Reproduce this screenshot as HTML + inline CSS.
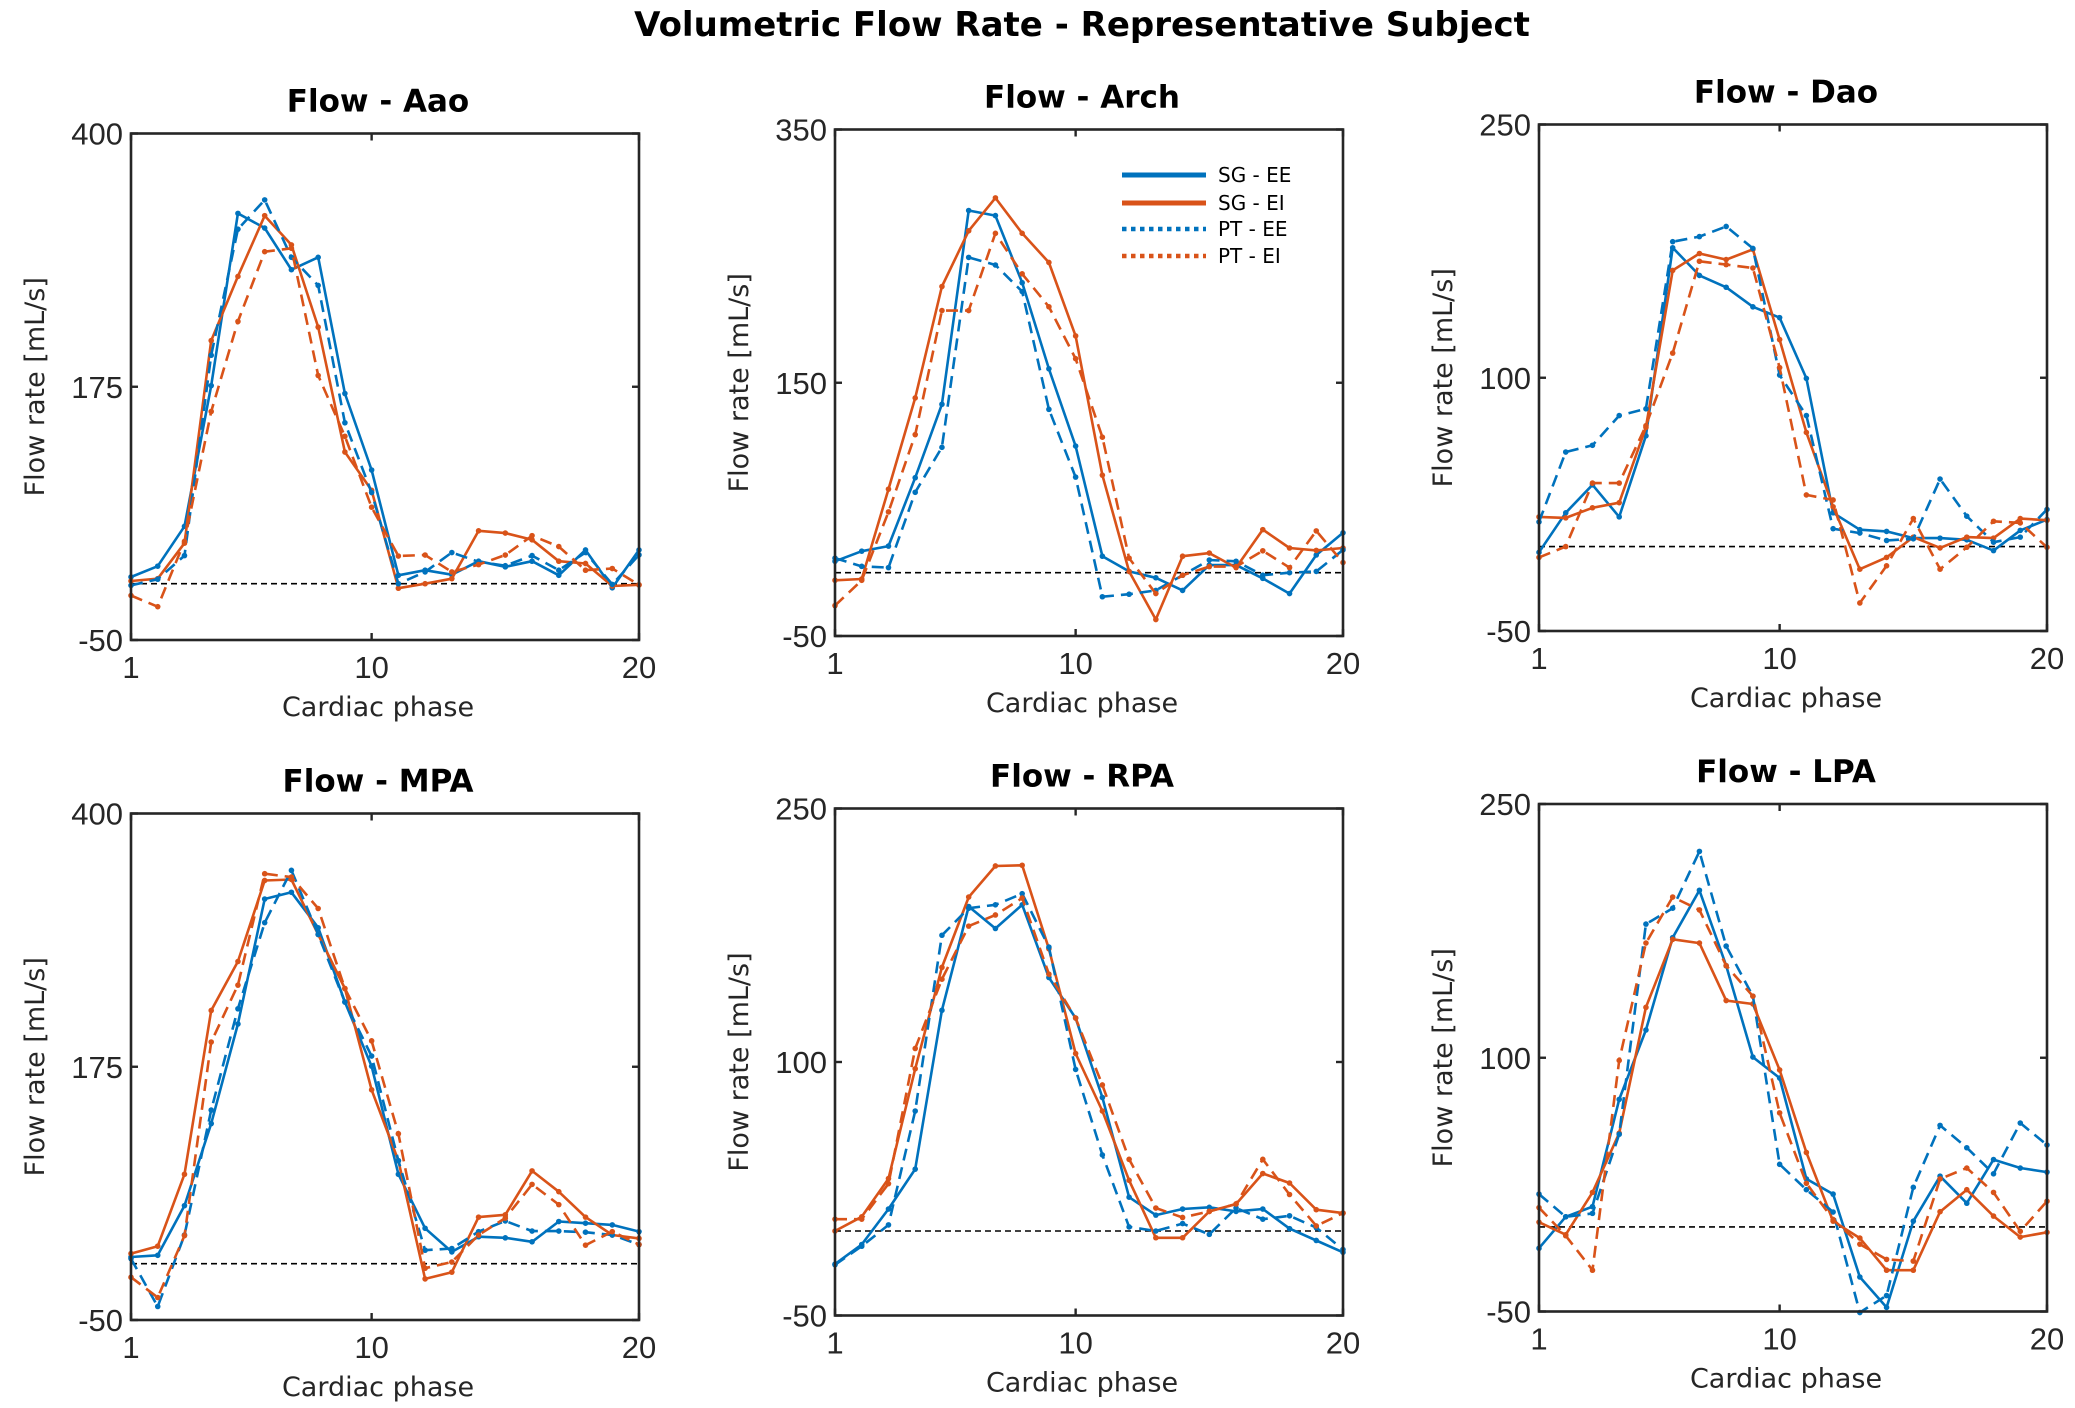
<!DOCTYPE html>
<html><head><meta charset="utf-8"><title>Volumetric Flow Rate</title>
<style>
html,body{margin:0;padding:0;background:#fff;}
svg{display:block;}
text{font-family:"DejaVu Sans","Liberation Sans",sans-serif;}
</style></head>
<body>
<svg id="fig" width="2075" height="1408" viewBox="0 0 2075 1408" xmlns="http://www.w3.org/2000/svg">
<rect width="2075" height="1408" fill="#fff"/>
<text x="1082" y="36" text-anchor="middle" font-size="34" font-weight="bold" fill="#000">Volumetric Flow Rate - Representative Subject</text>
</svg>
<script>
const phases = [1,2,3,4,5,6,7,8,9,10,11,12,13,14,15,16,17,18,19,20];
const seriesNames = ["SG - EE","SG - EI","PT - EE","PT - EI"];

const aaoSGEE = [6,15.6,51,176,329,316,279,290,169,101,7.5,12,8,20,15,20,7.5,30,-3.6,30];
const aaoSGEI = [2.4,4.5,36,216,273,327,301,228,117,83,-4,0,4.5,47,45,39,20,18,-2,-1];
const aaoPTEE = [-1.5,4,25,203,315,341,290,265,143,81,0,10.5,27.7,19.5,16,25,12,27.7,-0.6,25.6];
const aaoPTEI = [-10.5,-20.4,37.6,153,233,295,298,185,131,68,24.6,25.5,10.5,17,25.5,42.7,33,12,13.5,-1];

const archSGEE = [9,17,21,75,133,286,282,229,161,100,13,1,-4,-14,6,6,-4.5,-16.5,14,31.5];
const archSGEI = [-6,-5,66,138,226,270,296,268,245,187,77,1,-37,13,15.5,4,34,19.5,17.6,19.5];
const archPTEE = [11.5,5,4,63.5,99,249,243,222,129,75.5,-19,-17,-14,-2,10,9,-2,0,1,18];
const archPTEI = [-26,-6,48,109,207,207,268,236,210,169,107,11.5,-16.5,-2,4.8,4.8,17.3,4,33,8];

const daoSGEE = [-3.4,20,36.6,17.6,65.6,177,160.6,153.6,142,135.6,99.6,20,10,9,5,5,4,-2.4,9.6,16];
const daoSGEI = [17.6,17,23,26,70.6,163.6,173.6,170,176,122.6,67.6,23.6,-13.4,-6.4,5.6,-0.8,5.6,5,16.6,15.6];
const daoPTEE = [14.6,56,60,77.6,81.6,180.6,183.6,189.6,176.6,101.6,77.6,10.6,8,3.6,4.6,40,18,2.6,5.6,22];
const daoPTEI = [-6.4,0,37.6,37.6,71.6,114.6,169,167,165,106,30.6,27.6,-33.4,-11.4,16.6,-13.4,-0.4,15,14,-0.4];

const mpaSGEE = [6,7.5,51.6,124.5,213,324,330,298.5,232.5,175.5,79.5,31.5,10.5,24,23,19.5,37.5,36,34.5,28.5];
const mpaSGEI = [9,15.6,79.5,225,268.5,340.5,341.4,292.5,244.5,154.5,91.5,-13.5,-7.5,41.4,43.5,82.5,64,41.4,25.5,22.5];
const mpaPTEE = [4.5,-38,25.5,136.5,226.5,303,349.5,292.5,232.5,184.5,91.5,12,13.5,28.5,38,29,29,28,25.5,17];
const mpaPTEI = [-12,-30,25,197,247.5,346.5,343.5,315.6,244.5,198,115.5,-4,1.5,25.5,40.5,70.5,52.5,16.5,28.5,17];

const rpaSGEE = [-19.6,-8,13,36.6,130.6,192,179,193,150,126,79,20,9.4,13,14,11.6,13,1.4,-5.6,-12.6];
const rpaSGEI = [0,8.4,31,96,156,197.6,216,216.4,167,105,71,30,-4,-4,11.6,16,34,28.4,12.6,10.6];
const rpaPTEE = [-20,-9,3.6,71,175,191,193,199.6,168,95.6,45,2.4,0,4.4,-2,13.6,7,9,2,-11];
const rpaPTEI = [7,7,28,108,149,180.4,187,197,152,126,86.4,42.4,13.6,8,11.6,16,42.4,21.6,3,10.6];

const lpaSGEE = [-12.6,6,12,75.4,116.4,171,199,154.4,100.4,88,28.4,19.4,-29.6,-47.6,3.4,30,14,39.8,34.8,32.4];
const lpaSGEI = [2.8,-4.6,20.4,55.4,129.8,170,167.8,133.8,131.8,92.8,44,3.4,-6.6,-25.6,-25.6,9,22,6.4,-6,-3.2];
const lpaPTEE = [19.4,6,8,54.8,179,188.4,222,166,136.4,37,22,8.8,-50.6,-40.6,23.4,60,46.8,31.4,61.4,48.4];
const lpaPTEI = [11.4,-5.2,-25.6,98.4,167.8,195,187.4,154.4,136.4,67.4,25.8,4.4,-10.2,-19.2,-20.2,28.4,34.8,20.4,-2.6,15.2];

const aaoYTicks = [-50,175,400];
const archYTicks = [-50,150,350];
const daoYTicks = [-50,100,250];
const mpaYTicks = [-50,175,400];
const rpaYTicks = [-50,100,250];
const lpaYTicks = [-50,100,250];
const xTicks = [1,10,20];

const NS = "http://www.w3.org/2000/svg";
const svg = document.getElementById('fig');
const BLUE = "#0072BD", ORANGE = "#D95319";

function mk(tag, attrs, parent){
  const e = document.createElementNS(NS, tag);
  for (const k in attrs) e.setAttribute(k, attrs[k]);
  (parent||svg).appendChild(e);
  return e;
}

const panels = [
  {key:"aao", title:"Flow - Aao", L:131, T:133.5, R:639, B:640, yt:aaoYTicks, s:[aaoSGEE,aaoSGEI,aaoPTEE,aaoPTEI]},
  {key:"arch", title:"Flow - Arch", L:835, T:129.5, R:1343, B:636, yt:archYTicks, s:[archSGEE,archSGEI,archPTEE,archPTEI], legend:true},
  {key:"dao", title:"Flow - Dao", L:1539, T:124.5, R:2047, B:631, yt:daoYTicks, s:[daoSGEE,daoSGEI,daoPTEE,daoPTEI]},
  {key:"mpa", title:"Flow - MPA", L:131, T:813.5, R:639, B:1320, yt:mpaYTicks, s:[mpaSGEE,mpaSGEI,mpaPTEE,mpaPTEI]},
  {key:"rpa", title:"Flow - RPA", L:835, T:808.5, R:1343, B:1315.5, yt:rpaYTicks, s:[rpaSGEE,rpaSGEI,rpaPTEE,rpaPTEI]},
  {key:"lpa", title:"Flow - LPA", L:1539, T:804, R:2047, B:1311.5, yt:lpaYTicks, s:[lpaSGEE,lpaSGEI,lpaPTEE,lpaPTEI]}
];
const colors = [BLUE, ORANGE, BLUE, ORANGE];
const dashes = [null, null, "12 7", "12 7"];

panels.forEach(p => {
  const g = mk('g', {});
  
  
  const ymin = p.yt[0], ymax = p.yt[p.yt.length-1];
  const xmin = xTicks[0], xmax = xTicks[xTicks.length-1];
  const sx = v => p.L + (v - xmin) / (xmax - xmin) * (p.R - p.L);
  const sy = v => p.B - (v - ymin) / (ymax - ymin) * (p.B - p.T);
  const cx = (p.L + p.R) / 2 - 7, cy = (p.T + p.B) / 2;

  const t = mk('text', {x:cx, y:p.T-22, 'text-anchor':'middle', 'font-size':31, 'font-weight':'bold', fill:'#000'}, g);
  t.textContent = p.title;
  
  

  const z = mk('line', {x1:p.L, x2:p.R, y1:sy(0), y2:sy(0), stroke:'#000', 'stroke-width':1.6, 'stroke-dasharray':'6 4'}, g);
  
  

  p.s.forEach((arr, i) => {
    const sg = mk('g', {}, g);
    
    
    const pts = arr.map((v, j) => sx(phases[j]).toFixed(1) + ',' + sy(v).toFixed(1)).join(' ');
    const a = {points:pts, fill:'none', stroke:colors[i], 'stroke-width':2.6, 'stroke-linejoin':'round'};
    if (dashes[i]) a['stroke-dasharray'] = dashes[i];
    const pl = mk('polyline', a, sg);
    
    
    arr.forEach((v, j) => {
      const c = mk('circle', {cx:sx(phases[j]), cy:sy(v), r:2.8, fill:colors[i]}, sg);
      
      
    });
  });

  const box = mk('rect', {x:p.L, y:p.T, width:p.R-p.L, height:p.B-p.T, fill:'none', stroke:'#262626', 'stroke-width':2.6}, g);
  
  

  xTicks.forEach(v => {
    const x = sx(v);
    mk('line', {x1:x, x2:x, y1:p.B, y2:p.B-7, stroke:'#262626', 'stroke-width':2.4}, g);
    mk('line', {x1:x, x2:x, y1:p.T, y2:p.T+7, stroke:'#262626', 'stroke-width':2.4}, g);
    const tl = mk('text', {x:x, y:p.B+38, 'text-anchor':'middle', 'font-size':31, fill:'#262626', style:'font-family:"Liberation Sans",sans-serif'}, g);
    tl.textContent = v;
    
    
  });
  p.yt.forEach(v => {
    const y = sy(v);
    mk('line', {x1:p.L, x2:p.L+7, y1:y, y2:y, stroke:'#262626', 'stroke-width':2.4}, g);
    mk('line', {x1:p.R, x2:p.R-7, y1:y, y2:y, stroke:'#262626', 'stroke-width':2.4}, g);
    const tl = mk('text', {x:p.L-8, y:y+11, 'text-anchor':'end', 'font-size':31, fill:'#262626', style:'font-family:"Liberation Sans",sans-serif'}, g);
    tl.textContent = v;
    
    
  });

  const xl = mk('text', {x:cx, y:p.B+76, 'text-anchor':'middle', 'font-size':27, fill:'#262626'}, g);
  xl.textContent = 'Cardiac phase';
  
  
  const yx = p.L - 87;
  const yl = mk('text', {x:yx, y:cy, 'text-anchor':'middle', 'font-size':27, fill:'#262626', transform:'rotate(-90 ' + yx + ' ' + cy + ')'}, g);
  yl.textContent = 'Flow rate [mL/s]';
  
  

  if (p.legend) {
    const lg = mk('g', {}, g);
    
    
    const rows = [175, 203, 229, 256];
    seriesNames.forEach((n, i) => {
      const e = mk('g', {}, lg);
      
      
      const la = {x1:1122, x2:1206, y1:rows[i], y2:rows[i], stroke:colors[i], 'stroke-width':i<2?5:4.5};
      if (i >= 2) la['stroke-dasharray'] = '4.5 4.5';
      mk('line', la, e);
      const lt = mk('text', {x:1218, y:rows[i]+7, 'font-size':20, fill:'#000'}, e);
      lt.textContent = n;
    });
  }
});
</script>
</body></html>
